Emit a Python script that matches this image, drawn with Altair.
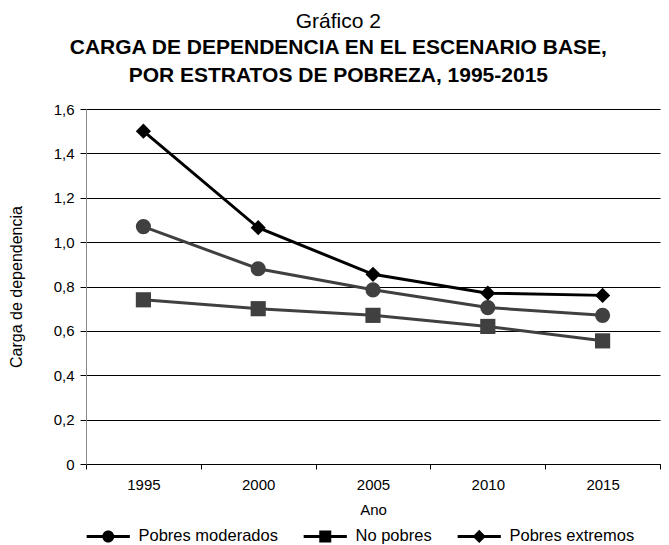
import altair as alt
import pandas as pd

years = ["1995", "2000", "2005", "2010", "2015"]
series_names = ["Pobres moderados", "No pobres", "Pobres extremos"]
moderados = [1.07, 0.88, 0.785, 0.705, 0.67]
no_pobres = [0.74, 0.70, 0.67, 0.62, 0.555]
extremos = [1.50, 1.065, 0.855, 0.77, 0.76]

rows = []
for name, vals in zip(series_names, [moderados, no_pobres, extremos]):
    for y, v in zip(years, vals):
        rows.append({"Año": y, "serie": name, "valor": v})
df = pd.DataFrame(rows)

FONT = "Liberation Sans"
colors = ["#404040", "#404040", "#000000"]

x = alt.X("Año:O", title="Ano", sort=years,
          scale=alt.Scale(paddingInner=0, paddingOuter=0),
          axis=alt.Axis(labelAngle=0, tickBand="extent", domainColor="#000000",
                        tickColor="#000000", tickSize=5, labelFont=FONT,
                        labelFontSize=15, titleFont=FONT, titleFontSize=15,
                        titleFontWeight="normal", labelPadding=8, titlePadding=10,
                        labelColor="#000000", titleColor="#000000"))
y = alt.Y("valor:Q", title="Carga de dependencia",
          scale=alt.Scale(domain=[0, 1.6]),
          axis=alt.Axis(values=[0, 0.2, 0.4, 0.6, 0.8, 1.0, 1.2, 1.4, 1.6],
                        labelExpr="datum.value == 0 ? '0' : replace(format(datum.value, '.1f'), '.', ',')",
                        grid=True, gridColor="#000000", gridWidth=1,
                        domainColor="#888888", tickColor="#000000", tickSize=6,
                        labelFont=FONT, labelFontSize=15, titleFont=FONT,
                        titleFontSize=16, titleFontWeight="normal",
                        labelPadding=6, titlePadding=29,
                        labelColor="#000000", titleColor="#000000"))
color = alt.Color("serie:N", scale=alt.Scale(domain=series_names, range=colors), legend=None)

lines = alt.Chart(df).mark_line(strokeWidth=3).encode(x=x, y=y, color=color)
points = alt.Chart(df).mark_point(filled=True, opacity=1).encode(
    x=x, y=y, color=color,
    shape=alt.Shape("serie:N", scale=alt.Scale(domain=series_names,
                                               range=["circle", "square", "diamond"]),
                    legend=None),
    size=alt.Size("serie:N", scale=alt.Scale(domain=series_names, range=[230, 230, 160]),
                  legend=None),
)

line_path = "M-3.6,-0.25H3.6V0.25H-3.6Z"
leg_paths = [
    line_path + " M1,0 A1,1 0 1,1 -1,0 A1,1 0 1,1 1,0Z",
    line_path + " M-1,-1H1V1H-1Z",
    line_path + " M0,-1.1L1.1,0L0,1.1L-1.1,0Z",
]


def make_legend():
    return alt.Legend(title=None, orient="none", direction="horizontal",
                      legendX=14, legendY=419, symbolSize=144,
                      labelFont=FONT, labelFontSize=16.5,
                      labelColor="#000000", labelOffset=22,
                      columnPadding=25, symbolStrokeWidth=0, symbolOpacity=1)


legend_layer = alt.Chart(df).mark_point(filled=True, opacity=1).encode(
    x=x, y=y,
    fill=alt.Fill("serie:N", scale=alt.Scale(domain=series_names, range=colors),
                  legend=make_legend()),
    shape=alt.Shape("serie:N", scale=alt.Scale(domain=series_names, range=leg_paths),
                    legend=make_legend()),
).transform_filter("false")

chart = alt.layer(lines, points, legend_layer).resolve_scale(
    shape="independent", size="independent"
).properties(
    width=574, height=355,
    title=alt.Title(
        "Gráfico 2",
        subtitle=["CARGA DE DEPENDENCIA EN EL ESCENARIO BASE,",
                  "POR ESTRATOS DE POBREZA, 1995-2015"],
        font=FONT, fontSize=21, fontWeight="normal", color="#000000",
        subtitleFont=FONT, subtitleFontSize=21, subtitleFontWeight="bold",
        subtitleColor="#000000", subtitleLineHeight=28, subtitlePadding=5,
        anchor="middle", frame="bounds", offset=16, dx=4,
    ),
    padding={"left": 0, "top": 3, "right": 0, "bottom": 0},
).configure_view(stroke=None)

chart.save("out.html", embed_options={"renderer": "svg", "actions": False})
